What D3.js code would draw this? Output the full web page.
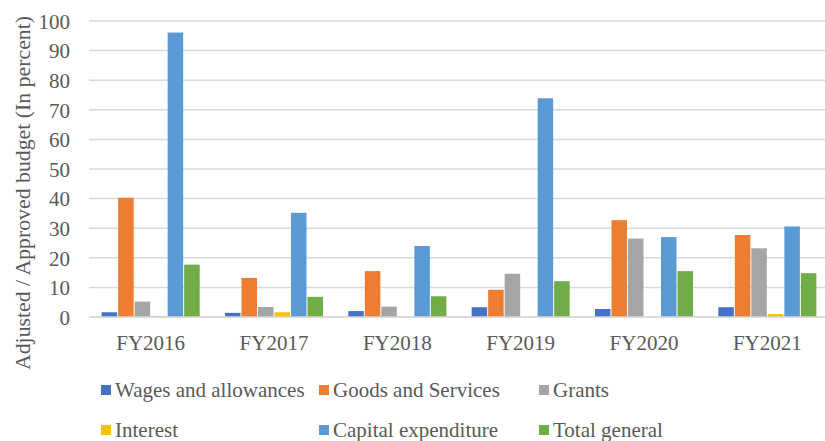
<!DOCTYPE html>
<html>
<head>
<meta charset="utf-8">
<script src="https://cdn.jsdelivr.net/npm/d3@7"></script>
<style>
  html, body { margin: 0; padding: 0; background: #fff; }
  svg { display: block; }
  text { font-family: "Liberation Serif", "Times New Roman", serif; fill: #595959; }
</style>
</head>
<body>
<svg id="chart" width="825" height="441"></svg>
<script>
// Fiscal years on the x axis
const years = ["FY2016", "FY2017", "FY2018", "FY2019", "FY2020", "FY2021"];

// Budget lines (series) and their values, adjusted / approved budget in percent
const seriesNames = ["Wages and allowances", "Goods and Services", "Grants", "Interest", "Capital expenditure", "Total general"];
const wages    = [1.6, 1.4, 2.0, 3.3, 2.7, 3.3];
const goods    = [40.3, 13.2, 15.5, 9.2, 32.7, 27.7];
const grants   = [5.2, 3.4, 3.5, 14.6, 26.5, 23.2];
const interest = [0.3, 1.6, 0, 0, 0, 1.0];
const capital  = [96.1, 35.2, 24.0, 73.9, 27.0, 30.6];
const total    = [17.7, 6.8, 7.0, 12.1, 15.5, 14.8];
const yTicks   = [0, 10, 20, 30, 40, 50, 60, 70, 80, 90, 100];

const seriesValues = [wages, goods, grants, interest, capital, total];
const colors = ["#4472C4", "#ED7D31", "#A5A5A5", "#FFC000", "#5B9BD5", "#70AD47"];

const svg = d3.select("#chart");
const plot = { left: 89, right: 829, top: 21, bottom: 317 };
const fontSize = 21;

const x0 = d3.scaleBand().domain(years).range([plot.left, plot.right]).padding(0);
const groupGap = x0.bandwidth() * 0.197;
const x1 = d3.scaleBand().domain(seriesNames)
  .range([groupGap / 2, x0.bandwidth() - groupGap / 2]).padding(0);
const y = d3.scaleLinear().domain([0, 100]).range([plot.bottom, plot.top]);

// Horizontal gridlines
svg.append("g")
  .selectAll("line")
  .data(yTicks)
  .join("line")
  .attr("x1", plot.left)
  .attr("x2", 825)
  .attr("y1", d => y(d))
  .attr("y2", d => y(d))
  .attr("stroke", "#d9d9d9")
  .attr("stroke-width", 1.5);

// Y axis tick labels
const yAxis = d3.axisLeft(y).tickValues(yTicks).tickSize(0).tickPadding(0);
const gy = svg.append("g").attr("transform", `translate(70,0)`).call(yAxis);
gy.select(".domain").remove();
gy.selectAll("text")
  .attr("font-size", fontSize)
  .attr("fill", "#595959")
  .attr("font-family", "Liberation Serif, Times New Roman, serif")
  .attr("dy", "0.35em");

// Bars
const rows = years.map((yr, i) => ({ year: yr, vals: seriesNames.map((s, j) => ({ key: s, v: seriesValues[j][i], c: colors[j] })) }));
svg.append("g")
  .selectAll("g")
  .data(rows)
  .join("g")
  .attr("transform", d => `translate(${x0(d.year)},0)`)
  .selectAll("rect")
  .data(d => d.vals)
  .join("rect")
  .attr("x", d => x1(d.key) + 0.5)
  .attr("width", x1.bandwidth() - 1)
  .attr("y", d => y(d.v))
  .attr("height", d => y(0) - y(d.v))
  .attr("fill", d => d.c);

// Baseline
svg.append("line")
  .attr("x1", plot.left).attr("x2", 825)
  .attr("y1", y(0)).attr("y2", y(0))
  .attr("stroke", "#d9d9d9").attr("stroke-width", 1.5);

// X axis labels
const xAxis = d3.axisBottom(x0).tickSize(0).tickPadding(0);
const gx = svg.append("g").attr("transform", `translate(0,${plot.bottom + 26})`).call(xAxis);
gx.select(".domain").remove();
gx.selectAll("text")
  .attr("font-size", fontSize)
  .attr("fill", "#595959")
  .attr("font-family", "Liberation Serif, Times New Roman, serif")
  .attr("dy", "0.35em");

// Y axis title
svg.append("text")
  .attr("transform", `translate(22,${(8 + 378) / 2}) rotate(-90)`)
  .attr("text-anchor", "middle")
  .attr("dy", "0.35em")
  .attr("font-size", 21.8)
  .text("Adjusted / Approved budget (In percent)");

// Legend, two rows of three
const legendX = [101, 319, 539];
const legendY = [390, 430];
const lg = svg.append("g")
  .selectAll("g")
  .data(seriesNames)
  .join("g")
  .attr("transform", (d, i) => `translate(${legendX[i % 3]},${legendY[Math.floor(i / 3)]})`);
lg.append("rect")
  .attr("x", 0).attr("y", -5)
  .attr("width", 10).attr("height", 10)
  .attr("fill", (d, i) => colors[i]);
lg.append("text")
  .attr("x", 14)
  .attr("dy", "0.35em")
  .attr("font-size", fontSize)
  .text(d => d);
</script>
</body>
</html>
